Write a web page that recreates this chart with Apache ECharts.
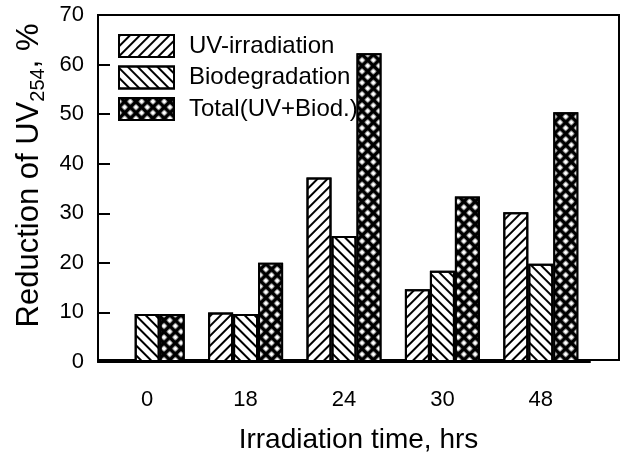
<!DOCTYPE html>
<html>
<head>
<meta charset="utf-8">
<script src="https://cdn.jsdelivr.net/npm/echarts@6/dist/echarts.min.js"></script>
<style>
  html, body { margin: 0; padding: 0; background: #fff; }
  #app { width: 626px; height: 459px; }
</style>
</head>
<body>
<div id="app"></div>
<script>
const categories = ["0", "18", "24", "30", "48"];
const uvValues = [null, 10.0, 37.2, 14.7, 30.2];
const bioValues = [9.7, 9.7, 25.4, 18.4, 19.8];
const totalValues = [9.7, 20.0, 62.3, 33.4, 50.4];
const seriesNames = ["UV-irradiation", "Biodegradation", "Total(UV+Biod.)"];
const yTicks = { min: 0, max: 70, step: 10 };

const font = "'Liberation Sans', Arial, sans-serif";
const myChart = echarts.init(document.getElementById("app"));

// stripe patterns
const stripe = function (rot) {
  return {
    symbol: "rect",
    color: "#000",
    dashArrayX: [1, 0],
    dashArrayY: [2, 4.6],
    rotation: rot,
  };
};
// cross hatch: black diagonal lattice with white diamond holes
const hatch = {
  symbol: "rect",
  color: "#fff",
  backgroundColor: "#000",
  symbolSize: 0.85,
  dashArrayX: [4.4, 2.2],
  dashArrayY: [4.4, 2.2],
  rotation: Math.PI / 4,
};

const barStyle = function (decal) {
  return {
    color: "#fff",
    borderColor: "#000",
    borderWidth: 2,
    decal: decal,
  };
};

const option = {
  backgroundColor: "#fff",
  animation: false,
  textStyle: { fontFamily: font, color: "#000" },
  legend: {
    orient: "vertical",
    left: 113,
    top: 29,
    icon: "rect",
    itemWidth: 55,
    itemHeight: 22,
    itemGap: 7.5,
    textStyle: { fontSize: 24, color: "#000", fontFamily: font, padding: [0, 0, 0, 10] },
    data: seriesNames,
  },
  grid: [
    {
      // frame box
      left: 98, right: 7, top: 15, bottom: 97,
      show: true,
      borderColor: "#000",
      borderWidth: 2,
      backgroundColor: "transparent",
    },
    {
      left: 98, right: 36, top: 15, bottom: 97,
    },
  ],
  xAxis: [
    {
      gridIndex: 0,
      type: "category",
      data: categories,
      axisLine: { show: false },
      axisTick: { show: false },
      axisLabel: { show: false },
      name: "Irradiation time, hrs",
      nameLocation: "middle",
      nameGap: 66,
      nameTextStyle: { fontSize: 28, color: "#000", fontFamily: font },
    },
    {
      gridIndex: 1,
      type: "category",
      data: categories,
      axisLine: { lineStyle: { color: "#000", width: 2 } },
      axisTick: { show: false },
      axisLabel: { fontSize: 22, color: "#000", margin: 27, fontFamily: font },
    },
  ],
  yAxis: [
    { gridIndex: 0, type: "value", show: false, min: yTicks.min, max: yTicks.max },
    {
      gridIndex: 1,
      type: "value",
      min: yTicks.min,
      max: yTicks.max,
      interval: yTicks.step,
      splitLine: { show: false },
      axisLine: { show: true, lineStyle: { color: "#000", width: 2 } },
      axisTick: { show: true, inside: true, length: 12, lineStyle: { color: "#000", width: 2 } },
      axisLabel: { fontSize: 22, color: "#000", margin: 14, fontFamily: font },
      name: "Reduction of UV{sub|254}, %",
      nameLocation: "middle",
      nameGap: 40,
      nameTextStyle: {
        fontSize: 31,
        color: "#000",
        fontFamily: font,
        lineHeight: 38,
        padding: [0, 0, 0, 26],
        rich: {
          sub: { fontSize: 20, lineHeight: 20, verticalAlign: "bottom", fontFamily: font, color: "#000" },
        },
      },
    },
  ],
  series: [
    {
      name: seriesNames[0],
      type: "bar",
      xAxisIndex: 1,
      yAxisIndex: 1,
      barWidth: 25,
      barGap: "0%",
      itemStyle: barStyle(stripe(-Math.PI / 4)),
      data: uvValues,
    },
    {
      name: seriesNames[1],
      type: "bar",
      xAxisIndex: 1,
      yAxisIndex: 1,
      barWidth: 25,
      barGap: "0%",
      itemStyle: barStyle(stripe(Math.PI / 4)),
      data: bioValues,
    },
    {
      name: seriesNames[2],
      type: "bar",
      xAxisIndex: 1,
      yAxisIndex: 1,
      barWidth: 25,
      barGap: "0%",
      itemStyle: { color: "#000", borderColor: "#000", borderWidth: 2, decal: hatch },
      data: totalValues,
    },
  ],
};
myChart.setOption(option);
</script>
</body>
</html>
